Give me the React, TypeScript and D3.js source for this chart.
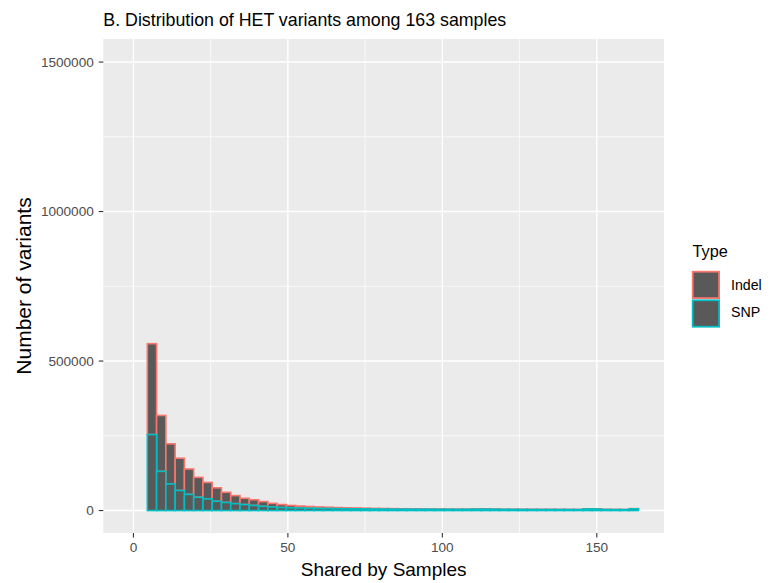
import React from "react";
import * as d3 from "d3";

const binCenters = [6, 9, 12, 15, 18, 21, 24, 27, 30, 33, 36, 39, 42, 45, 48, 51,
  54, 57, 60, 63, 66, 69, 72, 75, 78, 81, 84, 87, 90, 93, 96, 99, 102, 105, 108, 111,
  114, 117, 120, 123, 126, 129, 132, 135, 138, 141, 144, 147, 150, 153, 156, 159, 162];

const snpCounts = [254000, 131000, 89000, 67000, 54000, 44500, 39000, 31000, 27000, 23000,
  20000, 17000, 14000, 12000, 10000, 9000,
  8500, 8000, 7500, 7000, 6500, 6000, 5800, 5500, 5200, 5000, 4800, 4600, 4500, 4400, 4300,
  4200, 4100, 4000, 4100, 4600, 4700, 4500, 3900, 3800, 3700, 3600, 3500, 3500, 3400, 3400,
  3300, 5200, 5000, 3500, 3300, 3200, 5800];

const indelCounts = [304000, 187000, 134000, 108000, 85000, 66500, 55000, 45000, 34000, 27000,
  21000, 19000, 16000, 12000, 10000, 8000,
  6500, 5500, 4500, 4000, 3500, 3200, 2800, 2400, 2000, 1800, 1600, 1400, 1300, 1200, 1100,
  1000, 950, 900, 850, 850, 800, 750, 700, 650, 650, 600, 600, 550, 550, 500, 500, 550, 500,
  450, 450, 400, 550];

const binWidth = 3;
const xDataRange = [-1.5, 163.5];
const yDataRange = [0, 1502000];
const xTicks = [0, 50, 100, 150];
const xMinor = [25, 75, 125];
const yTicks = [0, 500000, 1000000, 1500000];
const yMinor = [250000, 750000, 1250000];
const types = ["Indel", "SNP"];
const typeColors = ["#F8766D", "#00BFC4"];

const FONT = "'Liberation Sans', Arial, Helvetica, sans-serif";

export default function App() {
  const W = 780, H = 583;
  const pl = 103.3, pr = 664, pt = 39, pb = 533;
  const xe = (xDataRange[1] - xDataRange[0]) * 0.05;
  const ye = (yDataRange[1] - yDataRange[0]) * 0.05;
  const x = d3.scaleLinear().domain([xDataRange[0] - xe, xDataRange[1] + xe]).range([pl, pr]);
  const y = d3.scaleLinear().domain([yDataRange[0] - ye, yDataRange[1] + ye]).range([pb, pt]);

  const bars = binCenters.map((c, i) => ({
    x0: x(c - binWidth / 2),
    x1: x(c + binWidth / 2),
    snpTop: y(snpCounts[i]),
    totTop: y(snpCounts[i] + indelCounts[i]),
    base: y(0),
  }));

  return (
    <svg width={W} height={H} style={{ position: "absolute", left: 0, top: 0, background: "#fff" }} fontFamily={FONT}>
      <rect x={0} y={0} width={W} height={H} fill="#fff" />
      <rect x={pl} y={pt} width={pr - pl} height={pb - pt} fill="#EBEBEB" />
      {yMinor.map((v) => (
        <line key={"ym" + v} x1={pl} x2={pr} y1={y(v)} y2={y(v)} stroke="#fff" strokeWidth={0.7} />
      ))}
      {xMinor.map((v) => (
        <line key={"xm" + v} x1={x(v)} x2={x(v)} y1={pt} y2={pb} stroke="#fff" strokeWidth={0.7} />
      ))}
      {yTicks.map((v) => (
        <line key={"yg" + v} x1={pl} x2={pr} y1={y(v)} y2={y(v)} stroke="#fff" strokeWidth={1.4} />
      ))}
      {xTicks.map((v) => (
        <line key={"xg" + v} x1={x(v)} x2={x(v)} y1={pt} y2={pb} stroke="#fff" strokeWidth={1.4} />
      ))}

      {bars.map((b, i) => (
        <rect key={"ind" + i} x={b.x0} y={b.totTop} width={b.x1 - b.x0} height={Math.max(0, b.snpTop - b.totTop)}
          fill="#595959" stroke={typeColors[0]} strokeWidth={1.6} />
      ))}
      {bars.map((b, i) => (
        <rect key={"snp" + i} x={b.x0} y={b.snpTop} width={b.x1 - b.x0} height={Math.max(0, b.base - b.snpTop)}
          fill="#595959" stroke={typeColors[1]} strokeWidth={1.6} />
      ))}

      {/* y axis */}
      {yTicks.map((v) => (
        <g key={"yt" + v}>
          <line x1={pl - 4.5} x2={pl} y1={y(v)} y2={y(v)} stroke="#333" strokeWidth={1.1} />
          <text x={pl - 9.5} y={y(v)} dy="0.36em" textAnchor="end" fontSize={13.6} fill="#4D4D4D">{v}</text>
        </g>
      ))}
      {/* x axis */}
      {xTicks.map((v) => (
        <g key={"xt" + v}>
          <line x1={x(v)} x2={x(v)} y1={pb} y2={pb + 4.5} stroke="#333" strokeWidth={1.1} />
          <text x={x(v)} y={pb + 19.3} textAnchor="middle" fontSize={13.6} fill="#4D4D4D">{v}</text>
        </g>
      ))}

      <text x={(pl + pr) / 2} y={576} textAnchor="middle" fontSize={19} fill="#000">Shared by Samples</text>
      <text transform={`translate(31,${(pt + pb) / 2}) rotate(-90)`} textAnchor="middle" fontSize={21} fill="#000">Number of variants</text>
      <text x={pl} y={25.5} fontSize={17.8} fill="#000">B. Distribution of HET variants among 163 samples</text>

      {/* legend */}
      <text x={692.5} y={257} fontSize={16.3} fill="#000">Type</text>
      {types.map((t, i) => (
        <g key={t}>
          <rect x={692.7} y={271.7 + i * 28.6} width={26.4} height={26.4} fill="#595959" stroke={typeColors[i]} strokeWidth={1.8} />
          <text x={731} y={290 + i * 27.4} fontSize={14.2} fill="#000">{t}</text>
        </g>
      ))}
    </svg>
  );
}
